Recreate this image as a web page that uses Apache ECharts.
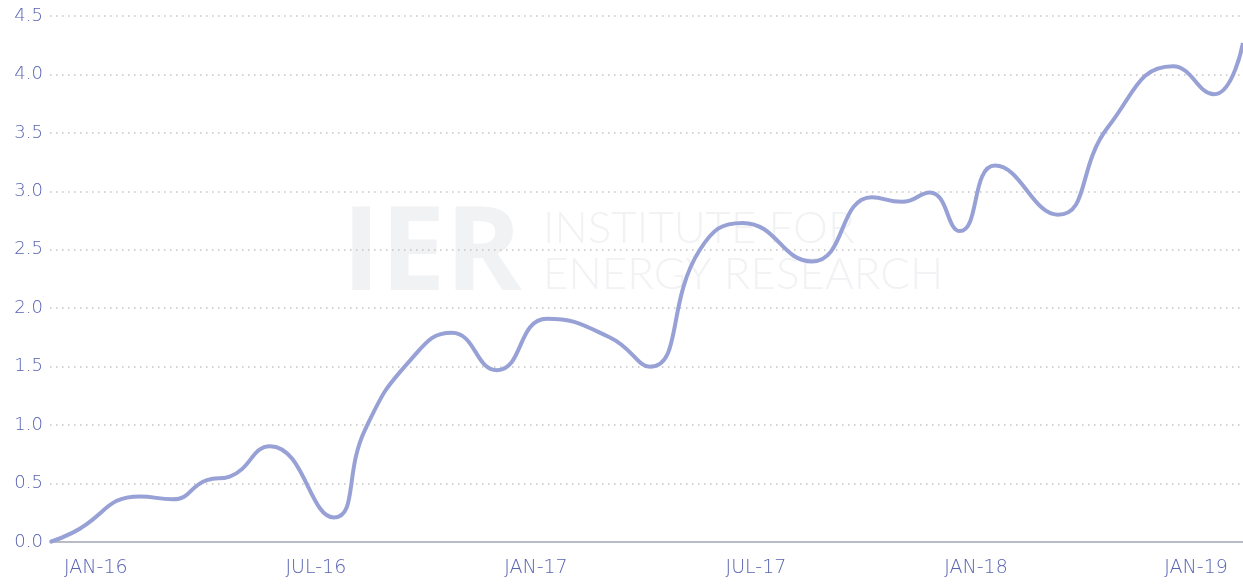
<!DOCTYPE html>
<html>
<head>
<meta charset="utf-8">
<title>IER chart</title>
<script src="https://cdn.jsdelivr.net/npm/echarts@6/dist/echarts.min.js"></script>
<style>
  html, body { margin: 0; padding: 0; background: #fff; }
  #chart { width: 1243px; height: 586px; }
</style>
</head>
<body>
<div id="chart"></div>
<script>
  // x = months counted from JAN-16 (0), y = value
  var monthPos = [-1.25, -0.63, 1.20, 2.10, 3.03, 3.65, 4.75, 6.49, 7.34, 8.56, 9.71, 10.94, 12.30,
    14.02, 15.11, 16.47, 17.64, 19.53, 21.16, 21.98, 22.74, 23.56, 24.52, 26.23, 27.60,
    29.37, 30.49, 31.28];
  var values = [0.00, 0.08, 0.39, 0.365, 0.53, 0.56, 0.82, 0.21, 0.96, 1.55, 1.79, 1.47, 1.91,
    1.75, 1.50, 2.50, 2.73, 2.40, 2.95, 2.91, 2.99, 2.66, 3.22, 2.80, 3.55,
    4.07, 3.83, 4.27];

  var tickPos = [0, 6, 12, 18, 24, 30];
  var tickLabels = ['JAN-16', 'JUL-16', 'JAN-17', 'JUL-17', 'JAN-18', 'JAN-19'];

  var labelColor = '#5864b2';
  var labelFont = 'DejaVu Sans';

  var points = monthPos.map(function (m, i) { return [m, values[i]]; });

  var chart = echarts.init(document.getElementById('chart'));
  var option = {
    animation: false,
    grid: { left: 50, right: 0, top: 16, bottom: 44 },
    graphic: [
      { type: 'text', left: 342, top: 199, z: 0, silent: true,
        style: { text: 'IER', fill: '#f1f2f4', font: 'bold 116px "Open Sans"' } },
      { type: 'text', left: 543, top: 207, z: 0, silent: true,
        style: { text: 'INSTITUTE FOR', fill: '#f1f2f4', font: '300 44px Lato' } },
      { type: 'text', left: 543, top: 253, z: 0, silent: true,
        style: { text: 'ENERGY RESEARCH', fill: '#f1f2f4', font: '300 44px Lato' } }
    ],
    xAxis: {
      type: 'value',
      min: -1.25,
      max: 31.28,
      axisLine: { show: true, lineStyle: { color: '#b9bcc6', width: 2 } },
      axisTick: { show: false },
      splitLine: { show: false },
      axisLabel: {
        customValues: tickPos,
        margin: 17,
        color: labelColor,
        fontFamily: labelFont,
        fontWeight: 200,
        fontSize: 19,
        formatter: function (v) {
          var i = tickPos.indexOf(v);
          return i >= 0 ? tickLabels[i] : '';
        }
      }
    },
    yAxis: {
      type: 'value',
      min: 0,
      max: 4.5,
      interval: 0.5,
      axisLine: { show: false },
      axisTick: { show: false },
      splitLine: { lineStyle: { color: '#c4c4c4', width: 1.5, type: [1.5, 4.5] } },
      axisLabel: {
        margin: 7,
        color: labelColor,
        fontFamily: labelFont,
        fontWeight: 200,
        fontSize: 18,
        formatter: function (v) { return v.toFixed(1); }
      }
    },
    series: [{
      type: 'line',
      data: points,
      smooth: 0.5,
      symbol: 'none',
      z: 3,
      lineStyle: { color: '#97a1d5', width: 4 }
    }]
  };
  chart.setOption(option);
</script>
</body>
</html>
